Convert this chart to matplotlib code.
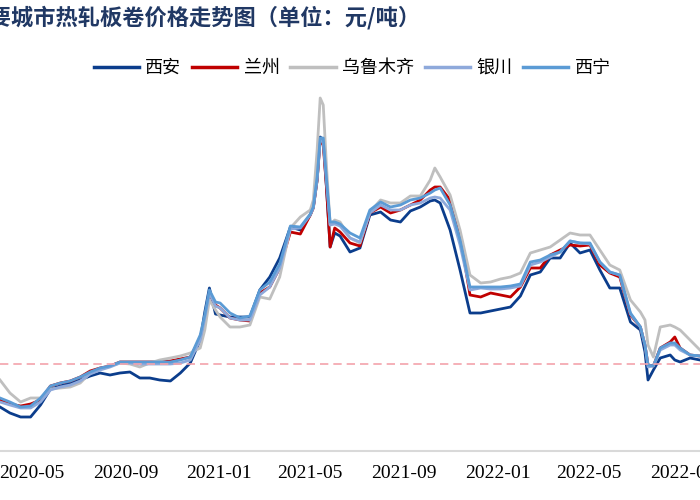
import pandas as pd
import matplotlib
matplotlib.use("Agg")
import matplotlib.pyplot as plt
import matplotlib.dates as mdates

plt.rcParams['font.family'] = ['Noto Sans CJK SC', 'DejaVu Sans']

# Data (yuan/ton)
dates = pd.to_datetime([
    '2020-03-21', '2020-04-03', '2020-04-17', '2020-04-30', '2020-05-13', '2020-05-26',
    '2020-06-08', '2020-06-21', '2020-07-04', '2020-07-17', '2020-07-30', '2020-08-12',
    '2020-08-25', '2020-09-07', '2020-09-20', '2020-10-03', '2020-10-16', '2020-10-30',
    '2020-11-12', '2020-11-25', '2020-12-08', '2020-12-14', '2020-12-20', '2020-12-28',
    '2021-01-03', '2021-01-16', '2021-01-29', '2021-02-11', '2021-02-24', '2021-03-09',
    '2021-03-22', '2021-04-05', '2021-04-18', '2021-05-01', '2021-05-05', '2021-05-10',
    '2021-05-14', '2021-05-18', '2021-05-22', '2021-05-27', '2021-06-02', '2021-06-09',
    '2021-06-22', '2021-07-05', '2021-07-18', '2021-08-01', '2021-08-14', '2021-08-27',
    '2021-09-09', '2021-09-22', '2021-10-05', '2021-10-11', '2021-10-18', '2021-10-31',
    '2021-11-13', '2021-11-26', '2021-12-10', '2021-12-23', '2022-01-05', '2022-01-18',
    '2022-01-31', '2022-02-13', '2022-02-26', '2022-03-11', '2022-03-24', '2022-04-06',
    '2022-04-19', '2022-05-02', '2022-05-15', '2022-05-28', '2022-06-10', '2022-06-24',
    '2022-07-07', '2022-07-13', '2022-07-17', '2022-07-24', '2022-08-02', '2022-08-15',
    '2022-08-21', '2022-08-28', '2022-09-10', '2022-09-23',
])

xian = [3540, 3480, 3440, 3440, 3560, 3720, 3750, 3780, 3810, 3850,
        3880, 3860, 3880, 3890, 3830, 3830, 3810, 3800, 3880, 3980,
        4210, 4490, 4730, 4470, 4460, 4440, 4440, 4440, 4710, 4840,
        5030, 5340, 5310, 5460, 5540, 5810, 6240, 6210, 5760, 5140,
        5280, 5250, 5090, 5130, 5460, 5490, 5410, 5390, 5500, 5540,
        5600, 5610, 5580, 5310, 4910, 4480, 4480, 4500, 4520, 4540,
        4650, 4860, 4890, 5030, 5030, 5180, 5080, 5110, 4910, 4730,
        4730, 4390, 4310, 4090, 3810, 3910, 4030, 4060, 4010, 3990,
        4030, 4010]

lanzhou = [3610, 3570, 3550, 3570, 3610, 3750, 3780, 3800, 3840, 3900,
           3930, 3950, 3990, 3990, 3990, 3990, 3990, 4000, 4020, 4040,
           4230, 4430, 4680, 4560, 4530, 4430, 4410, 4400, 4680, 4740,
           4930, 5290, 5270, 5460, 5530, 5810, 6210, 6160, 5760, 5140,
           5330, 5290, 5180, 5150, 5480, 5540, 5480, 5510, 5560, 5610,
           5710, 5740, 5740, 5610, 5260, 4660, 4640, 4680, 4660, 4640,
           4740, 4930, 4930, 5060, 5110, 5160, 5150, 5160, 4960, 4880,
           4840, 4460, 4340, 4160, 3960, 3950, 4130, 4190, 4240, 4130,
           4060, 4050]

urumqi = [3810, 3680, 3590, 3630, 3630, 3720, 3730, 3740, 3780, 3880,
          3920, 3950, 3980, 3970, 3940, 3980, 4010, 4030, 4050, 4080,
          4130, 4310, 4610, 4510, 4440, 4340, 4340, 4360, 4640, 4620,
          4840, 5330, 5440, 5510, 5610, 6110, 6630, 6560, 5980, 5360,
          5410, 5390, 5230, 5180, 5490, 5610, 5580, 5580, 5650, 5650,
          5810, 5930, 5840, 5660, 5310, 4860, 4780, 4790, 4820, 4840,
          4880, 5080, 5110, 5140, 5210, 5280, 5260, 5260, 5110, 4960,
          4910, 4610, 4490, 4410, 4160, 4040, 4340, 4360, 4340, 4310,
          4210, 4110]

yinchuan = [3590, 3560, 3530, 3530, 3590, 3710, 3740, 3760, 3800, 3870,
            3910, 3940, 3980, 3980, 3970, 3970, 3970, 3970, 3980, 4010,
            4210, 4430, 4680, 4550, 4530, 4430, 4410, 4410, 4660, 4740,
            4930, 5320, 5330, 5460, 5530, 5810, 6210, 6190, 5810, 5360,
            5370, 5350, 5230, 5190, 5480, 5560, 5510, 5510, 5560, 5580,
            5630, 5640, 5630, 5510, 5160, 4710, 4730, 4720, 4720, 4730,
            4750, 4960, 4990, 5040, 5090, 5200, 5180, 5170, 4990, 4890,
            4860, 4470, 4340, 4160, 3940, 3950, 4110, 4160, 4160, 4110,
            4060, 4050]

xining = [3630, 3590, 3540, 3550, 3630, 3750, 3780, 3800, 3840, 3890,
          3930, 3950, 3990, 3990, 3990, 3990, 3990, 3990, 4010, 4040,
          4260, 4460, 4710, 4590, 4580, 4480, 4430, 4450, 4710, 4790,
          4970, 5350, 5340, 5470, 5540, 5840, 6230, 6230, 5840, 5390,
          5390, 5370, 5280, 5230, 5510, 5590, 5540, 5560, 5610, 5630,
          5680, 5710, 5730, 5560, 5210, 4740, 4740, 4740, 4740, 4750,
          4770, 4990, 5010, 5060, 5090, 5200, 5180, 5180, 4990, 4890,
          4860, 4480, 4340, 4160, 3960, 3950, 4130, 4180, 4180, 4130,
          4060, 4050]

ref_level = 3970

cities = ['西安', '兰州', '乌鲁木齐', '银川', '西宁']
series = [xian, lanzhou, urumqi, yinchuan, xining]
colors = ['#0B3D8C', '#C00000', '#BFBFBF', '#8EA9DB', '#5B9BD5']

fig = plt.figure(figsize=(7, 5), dpi=100)
ax = fig.add_axes([0, 0.098, 1, 0.732])

for name, vals, c in zip(cities, series, colors):
    ax.plot(dates, vals, color=c, lw=2.0, label=name)

ax.axhline(ref_level, color='#F4A3AC', lw=1.2, ls=(0, (5, 3)))

ax.set_xlim(pd.Timestamp('2020-03-21'), pd.Timestamp('2022-09-23'))
ax.set_ylim(3100, 6760)

ticks = pd.to_datetime(['2020-05-01', '2020-09-01', '2021-01-01', '2021-05-01',
                        '2021-09-01', '2022-01-01', '2022-05-01', '2022-09-01'])
ax.set_xticks(ticks)
ax.xaxis.set_major_formatter(mdates.DateFormatter('%Y-%m'))
ax.tick_params(axis='x', length=0, pad=10, labelsize=14)
for lab in ax.get_xticklabels():
    lab.set_fontfamily('Liberation Serif')
ax.set_yticks([])
for s in ['top', 'left', 'right']:
    ax.spines[s].set_visible(False)
ax.spines['bottom'].set_color('#D9D9D9')
ax.spines['bottom'].set_linewidth(1.5)

fig.legend(loc='center', bbox_to_anchor=(0.503, 0.864), ncol=5, frameon=False,
           fontsize=13, handlelength=2.5, handletextpad=0.35, columnspacing=0.6)
for line in fig.legends[0].get_lines():
    line.set_linewidth(2.5)

# title is cut off at the left edge, as in the source image
fig.text(-0.11, 0.964, '西北主要城市热轧板卷价格走势图（单位：元/吨）',
         fontsize=16, color='#203864', ha='left', va='center', fontweight='bold')

fig.savefig('out.png', dpi=100)
